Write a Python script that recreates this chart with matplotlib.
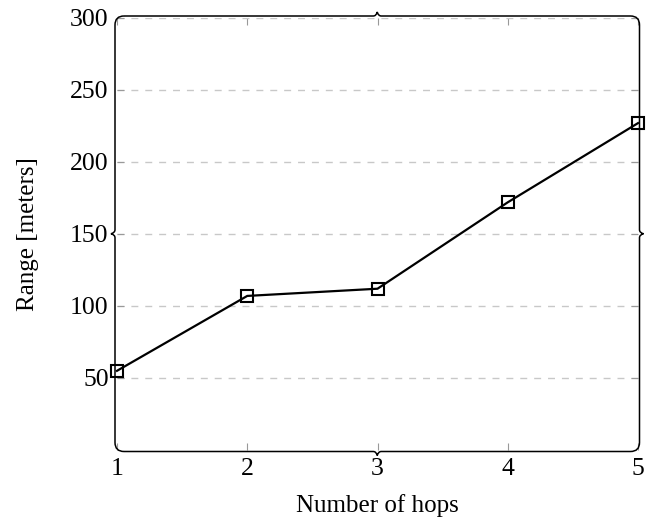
import matplotlib.pyplot as plt
from matplotlib.path import Path
from matplotlib.patches import PathPatch

plt.rcParams['font.family'] = ['Liberation Serif', 'DejaVu Serif']

hops = [1, 2, 3, 4, 5]
range_m = [55, 107, 112, 172, 227]
yticks = [50, 100, 150, 200, 250, 300]

W, H = 654, 521
fig = plt.figure(figsize=(W / 100, H / 100), dpi=100)
# axes box in pixels: x 117..638, y 18..450 (from top)
ax = fig.add_axes([117 / W, 1 - 450 / H, (638 - 117) / W, (450 - 18) / H])

ax.plot(hops, range_m, color='black', lw=1.6, marker='s', markersize=8,
        markerfacecolor='none', markeredgecolor='black', markeredgewidth=1.5,
        clip_on=False, zorder=3)

ax.set_xlim(1, 5)
ax.set_ylim(0, 300)
ax.set_xticks(hops)
ax.set_yticks(yticks)
ax.grid(axis='y', color='#c8c8c8', ls=(0, (5, 5)), lw=1)
ax.tick_params(direction='in', length=5, width=0.8, color='#999999',
               top=True, right=True, labelsize=18.5, pad=6)
for s in ax.spines.values():
    s.set_visible(False)

ax.set_xlabel('Number of hops', fontsize=18, labelpad=10)
ax.set_ylabel('Range [meters]', fontsize=18, labelpad=22)

# brace-like frame with rounded corners, drawn in pixel coords
x0, x1, yt, yb = 115, 639.5, 16, 451.5
r, n = 9, 4
xm, ym = (x0 + x1) / 2, (yt + yb) / 2


def p(x, y):
    return (x / W, 1 - y / H)


verts = [p(x0 + r, yt)]
codes = [Path.MOVETO]


def add_line(x, y):
    verts.append(p(x, y))
    codes.append(Path.LINETO)


def add_curve(cx, cy, x, y):
    verts.extend([p(cx, cy), p(x, y)])
    codes.extend([Path.CURVE3, Path.CURVE3])


# top edge with notch
add_line(xm - n, yt)
add_curve(xm - 1, yt, xm, yt - n)
add_curve(xm + 1, yt, xm + n, yt)
add_line(x1 - r, yt)
add_curve(x1, yt, x1, yt + r)
# right edge
add_line(x1, ym - n)
add_curve(x1, ym - 1, x1 + n, ym)
add_curve(x1, ym + 1, x1, ym + n)
add_line(x1, yb - r)
add_curve(x1, yb, x1 - r, yb)
# bottom edge
add_line(xm + n, yb)
add_curve(xm + 1, yb, xm, yb + n)
add_curve(xm - 1, yb, xm - n, yb)
add_line(x0 + r, yb)
add_curve(x0, yb, x0, yb - r)
# left edge
add_line(x0, ym + n)
add_curve(x0, ym + 1, x0 - n, ym)
add_curve(x0, ym - 1, x0, ym - n)
add_line(x0, yt + r)
add_curve(x0, yt, x0 + r, yt)

frame = PathPatch(Path(verts, codes), facecolor='none', edgecolor='black',
                  lw=1.1, transform=fig.transFigure, zorder=4)
fig.patches.append(frame)

fig.savefig('out.png', dpi=100)
